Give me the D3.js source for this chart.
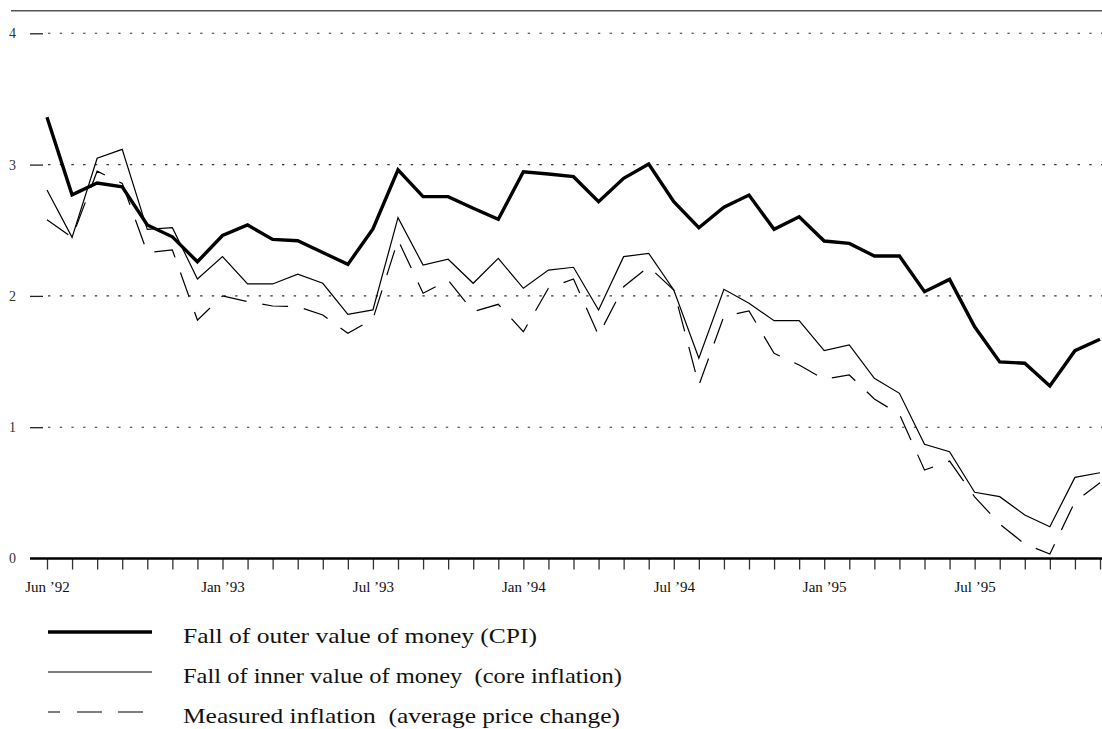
<!DOCTYPE html>
<html>
<head>
<meta charset="utf-8">
<script src="https://cdn.jsdelivr.net/npm/d3@7"></script>
<style>
  html, body { margin: 0; padding: 0; background: #fff; }
  svg { display: block; }
  .legend-text { white-space: pre; }
</style>
</head>
<body>
<svg id="chart" width="1102" height="729"></svg>
<script>
// ---- data ----
const months = [
  "Jun 92","Jul 92","Aug 92","Sep 92","Oct 92","Nov 92","Dec 92",
  "Jan 93","Feb 93","Mar 93","Apr 93","May 93","Jun 93","Jul 93","Aug 93","Sep 93","Oct 93","Nov 93","Dec 93",
  "Jan 94","Feb 94","Mar 94","Apr 94","May 94","Jun 94","Jul 94","Aug 94","Sep 94","Oct 94","Nov 94","Dec 94",
  "Jan 95","Feb 95","Mar 95","Apr 95","May 95","Jun 95","Jul 95","Aug 95","Sep 95","Oct 95","Nov 95","Dec 95"
];
const tickLabels = {
  "Jun 92": "Jun \u201992", "Jan 93": "Jan \u201993", "Jul 93": "Jul \u201993",
  "Jan 94": "Jan \u201994", "Jul 94": "Jul \u201994", "Jan 95": "Jan \u201995", "Jul 95": "Jul \u201995"
};
const yTicks = [0, 1, 2, 3, 4];

const cpi = [3.36, 2.77, 2.86, 2.83, 2.54, 2.45, 2.26, 2.46, 2.54, 2.43, 2.42, 2.33, 2.24, 2.51,
             2.96, 2.756, 2.756, 2.667, 2.583, 2.946, 2.928, 2.908, 2.717, 2.896, 3.005, 2.717, 2.519,
             2.675, 2.768, 2.507, 2.603, 2.418, 2.40, 2.304, 2.304, 2.032, 2.126, 1.765, 1.497, 1.487,
             1.314, 1.583, 1.67];
const core = [2.807, 2.446, 3.048, 3.116, 2.507, 2.52, 2.129, 2.299, 2.091, 2.091, 2.165, 2.096, 1.86, 1.893,
              2.596, 2.235, 2.279, 2.096, 2.286, 2.058, 2.197, 2.218, 1.893, 2.299, 2.324, 2.045, 1.525,
              2.05, 1.944, 1.811, 1.811, 1.583, 1.626, 1.372, 1.258, 0.87, 0.813, 0.504, 0.471, 0.331,
              0.242, 0.618, 0.653];
const measured = [2.58, 2.446, 2.95, 2.857, 2.33, 2.35, 1.816, 2.0, 1.956, 1.923, 1.918, 1.855, 1.715, 1.824,
                  2.426, 2.02, 2.12, 1.88, 1.936, 1.727, 2.058, 2.129, 1.70, 2.07, 2.222, 2.045, 1.32,
                  1.845, 1.885, 1.563, 1.474, 1.365, 1.398, 1.215, 1.098, 0.674, 0.742, 0.47, 0.263, 0.11,
                  0.034, 0.433, 0.577];

const legendItems = [
  { label: "Fall of outer value of money (CPI)", key: "cpi" },
  { label: "Fall of inner value of money  (core inflation)", key: "core" },
  { label: "Measured inflation  (average price change)", key: "measured" }
];

// ---- styles ----
const styles = {
  cpi: { width: 3.4, dash: null },
  core: { width: 1.2, dash: null },
  measured: { width: 1.2, dash: "26,16" }
};
const series = { cpi, core, measured };

const svg = d3.select("#chart");
const serif = "'Liberation Serif', 'Times New Roman', Times, serif";

const x = d3.scalePoint().domain(months).range([47, 1100]);
const y = d3.scaleLinear().domain([0, 4]).range([558.5, 33.3]);

// top rule
svg.append("line")
  .attr("x1", 11).attr("x2", 1102).attr("y1", 10.7).attr("y2", 10.7)
  .attr("stroke", "#555").attr("stroke-width", 1.4);

// gridlines (dotted)
svg.append("g").selectAll("line").data(yTicks.filter(d => d > 0)).join("line")
  .attr("x1", 48).attr("x2", 1102)
  .attr("y1", d => y(d)).attr("y2", d => y(d))
  .attr("stroke", "#333").attr("stroke-width", 1.1)
  .attr("stroke-dasharray", "2.4,9.3");

// y axis
const yAxis = svg.append("g").attr("transform", "translate(43,0)")
  .call(d3.axisLeft(y).tickValues(yTicks).tickFormat(d3.format("d")).tickSize(13).tickPadding(15));
yAxis.select(".domain").remove();
yAxis.selectAll(".tick line").attr("stroke", "#222").attr("stroke-width", 1.3);
yAxis.selectAll(".tick text")
  .style("font-family", serif).style("font-size", "14px").attr("fill", "#333")
  .attr("text-anchor", "middle").attr("x", -30.5);
yAxis.selectAll(".tick").filter(d => d === 0).select("line").remove();

// x axis
const xAxis = svg.append("g").attr("transform", "translate(0,558.5)")
  .call(d3.axisBottom(x).tickSize(11).tickSizeOuter(0).tickPadding(12)
    .tickFormat(d => tickLabels[d] || ""));
xAxis.select(".domain").remove();
xAxis.selectAll(".tick line").attr("stroke", "#333").attr("stroke-width", 1.3);
xAxis.selectAll(".tick text")
  .style("font-family", serif).style("font-size", "15px").attr("fill", "#111");
svg.append("line")
  .attr("x1", 30).attr("x2", 1102).attr("y1", 558.5).attr("y2", 558.5)
  .attr("stroke", "#000").attr("stroke-width", 2.4);

// lines
const line = d3.line().x((d, i) => x(months[i])).y(d => y(d));
["core", "measured", "cpi"].forEach(k => {
  svg.append("path")
    .datum(series[k])
    .attr("d", line)
    .attr("fill", "none")
    .attr("stroke", "#000")
    .attr("stroke-width", styles[k].width)
    .attr("stroke-linejoin", "miter")
    .attr("stroke-dasharray", styles[k].dash);
});

// legend
const legendY = [632, 672, 712];
const legendW = [354, 439, 437];
const lg = svg.append("g");
legendItems.forEach((item, i) => {
  const st = styles[item.key];
  lg.append("line")
    .attr("x1", 48).attr("x2", 152).attr("y1", legendY[i]).attr("y2", legendY[i])
    .attr("stroke", "#000").attr("stroke-width", st.width + (item.key === "cpi" ? 0.2 : 0))
    .attr("stroke-dasharray", st.dash ? "12,17,25,16,25,16" : null);
  lg.append("text")
    .attr("class", "legend-text")
    .attr("x", 183).attr("y", legendY[i] + 11)
    .attr("font-family", serif).attr("font-size", 22).attr("fill", "#111")
    .attr("textLength", legendW[i]).attr("lengthAdjust", "spacingAndGlyphs")
    .text(item.label);
});
</script>
</body>
</html>
